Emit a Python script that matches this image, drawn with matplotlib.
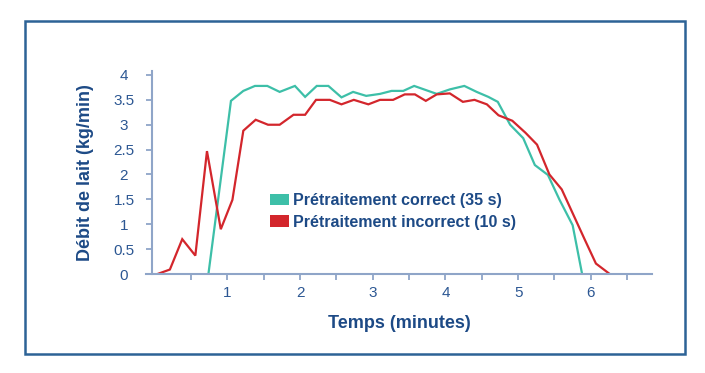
import matplotlib
matplotlib.use("Agg")
import matplotlib.pyplot as plt
from matplotlib.patches import Patch, Rectangle

# temps (minutes) et débit (kg/min)
t_correct = [0.74, 1.05, 1.22, 1.38, 1.55, 1.72, 1.93, 2.07, 2.23, 2.39, 2.57, 2.73,
             2.91, 3.10, 3.26, 3.42, 3.57, 3.88, 4.06, 4.26, 4.43, 4.59, 4.72,
             4.89, 5.07, 5.23, 5.41, 5.57, 5.75, 5.88]
q_correct = [0.0, 3.48, 3.68, 3.78, 3.78, 3.66, 3.78, 3.56, 3.78, 3.78, 3.55, 3.66,
             3.58, 3.62, 3.68, 3.68, 3.78, 3.62, 3.71, 3.78, 3.66, 3.56, 3.46,
             3.0, 2.73, 2.19, 1.99, 1.49, 0.98, 0.0]

t_incorrect = [0.04, 0.21, 0.38, 0.56, 0.72, 0.91, 1.07, 1.22, 1.39, 1.56, 1.72, 1.91,
               2.07, 2.22, 2.41, 2.57, 2.74, 2.94, 3.10, 3.28, 3.44, 3.58, 3.73,
               3.88, 4.06, 4.24, 4.40, 4.57, 4.73, 4.92, 5.10, 5.26, 5.43, 5.60,
               5.76, 5.92, 6.07, 6.26]
q_incorrect = [0.0, 0.09, 0.70, 0.37, 2.47, 0.90, 1.49, 2.88, 3.10, 3.0, 3.0, 3.2,
               3.2, 3.5, 3.5, 3.41, 3.5, 3.41, 3.5, 3.5, 3.61, 3.61, 3.48,
               3.61, 3.63, 3.46, 3.5, 3.41, 3.19, 3.08, 2.84, 2.6, 2.0, 1.7,
               1.19, 0.68, 0.21, 0.0]

labels = ["Prétraitement correct (35 s)", "Prétraitement incorrect (10 s)"]
colors = ["#3dbfa8", "#d3262c"]

y_ticks = [0, 0.5, 1, 1.5, 2, 2.5, 3, 3.5, 4]
y_ticklabels = ["0", "0.5", "1", "1.5", "2", "2.5", "3", "3.5", "4"]
x_major = [1, 2, 3, 4, 5, 6]
x_minor = [0.5, 1.5, 2.5, 3.5, 4.5, 5.5, 6.5]

navy = "#1d4a86"
tick_col = "#2c5793"
axis_col = "#8fa5c8"

plt.rcParams["font.family"] = ["Liberation Sans", "DejaVu Sans"]

fig = plt.figure(figsize=(7.05, 3.73), dpi=100)
W, H = 705, 373
ax = fig.add_axes([145.9 / W, (H - 274) / H, (651.9 - 145.9) / W, (274 - 71) / H])

ax.plot(t_correct, q_correct, color=colors[0], lw=1.6, solid_joinstyle="miter")
ax.plot(t_incorrect, q_incorrect, color=colors[1], lw=1.6, solid_joinstyle="miter")

ax.set_xlim(-0.12, 6.84)
ax.set_ylim(0, 4.08)

for s in ["top", "right"]:
    ax.spines[s].set_visible(False)
ax.spines["left"].set_position(("data", -0.03))
ax.spines["left"].set_bounds(0, 4.08)
for s in ["left", "bottom"]:
    ax.spines[s].set_color(axis_col)
    ax.spines[s].set_linewidth(1.5)

ax.set_xticks(x_major)
ax.set_xticklabels([str(v) for v in x_major])
ax.set_xticks(x_minor, minor=True)
ax.set_yticks(y_ticks)
ax.set_yticklabels(y_ticklabels)

ax.tick_params(axis="both", which="both", direction="out", length=4.5, width=1.3,
               color=axis_col, labelcolor=tick_col, labelsize=11)
ax.tick_params(axis="x", pad=4)
ax.tick_params(axis="y", pad=16)
for lab in ax.get_yticklabels():
    lab.set_horizontalalignment("center")

ax.set_ylabel("Débit de lait (kg/min)", color=navy, fontsize=13, fontweight="bold")
ax.yaxis.set_label_coords((94 - 145.9) / 506, 0.5)  # placé à la main
ax.set_xlabel("Temps (minutes)", color=navy, fontsize=13, fontweight="bold")
ax.xaxis.set_label_coords(0.5, -(315 - 274) / 203)

handles = [Patch(facecolor=c, edgecolor="none") for c in colors]
leg = fig.legend(handles, labels, loc="upper left",
                 bbox_to_anchor=(270 / W, (H - 193) / H), frameon=False,
                 borderpad=0, borderaxespad=0, handlelength=1.19, handleheight=0.75,
                 handletextpad=0.25, labelspacing=0.42,
                 prop={"size": 11.5, "weight": "bold"})
for txt in leg.get_texts():
    txt.set_color(navy)

# cadre bleu autour du graphique
fig.patches.append(Rectangle((24.5 / W, (H - 353.8) / H), (685.3 - 24.5) / W,
                             (353.8 - 21.2) / H, transform=fig.transFigure,
                             fill=False, edgecolor="#2d6396", linewidth=1.8))

fig.savefig("out.png", dpi=100)
